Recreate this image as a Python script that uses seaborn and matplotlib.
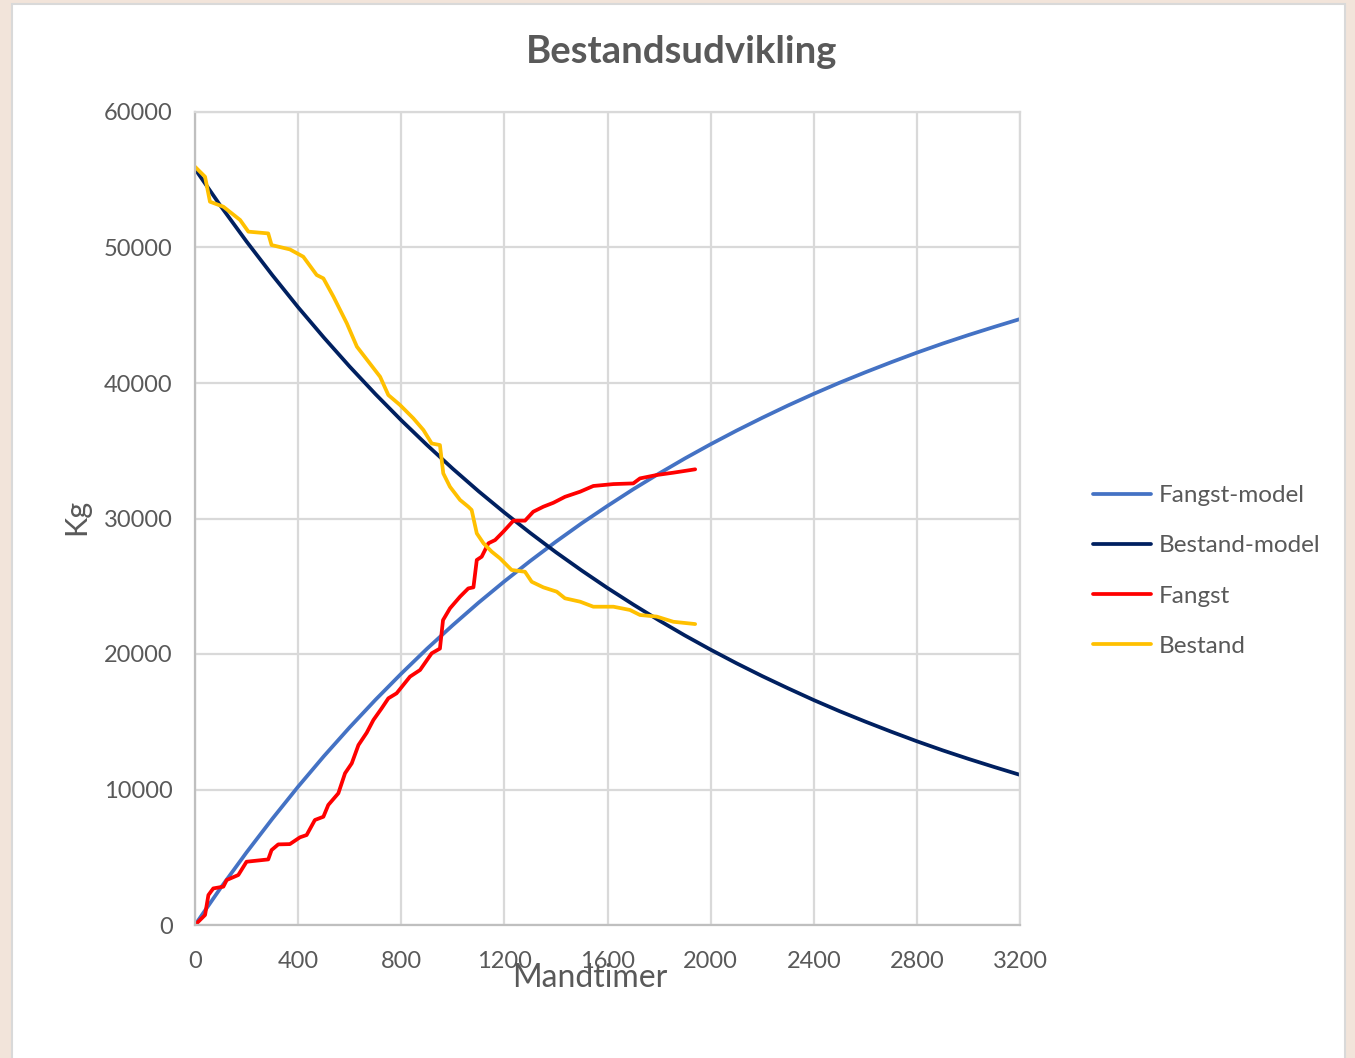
import numpy as np
import matplotlib
matplotlib.use("Agg")
import matplotlib.pyplot as plt
import seaborn as sns
from matplotlib.patches import Rectangle

# -----------------------------------
# DATA
# -----------------------------------

model_timer = [0, 100, 200, 300, 400, 500, 600, 700, 800, 900, 1000, 1100,
               1200, 1300, 1400, 1500, 1600, 1700, 1800, 1900, 2000, 2100,
               2200, 2300, 2400, 2500, 2600, 2700, 2800, 2900, 3000, 3100,
               3200]
fangst_model = [0, 2750, 5360, 7840, 10210, 12460, 14590, 16620, 18550,
                20390, 22130, 23790, 25360, 26860, 28290, 29650, 30930,
                32160, 33320, 34430, 35480, 36480, 37430, 38340, 39200,
                40020, 40790, 41530, 42240, 42910, 43540, 44140, 44720]
bestand_model = [55800, 53050, 50440, 47960, 45590, 43350, 41210, 39180,
                 37250, 35420, 33670, 32010, 30440, 28940, 27510, 26160,
                 24870, 23650, 22480, 21370, 20320, 19320, 18370, 17470,
                 16600, 15780, 15010, 14270, 13560, 12890, 12260, 11660,
                 11080]

fangst_timer = [0, 39, 52, 71, 110, 123, 168, 200, 284, 297, 323, 368, 407,
                433, 465, 498, 517, 556, 582, 608, 634, 666, 692, 724, 750,
                782, 834, 873, 918, 950, 962, 989, 1028, 1060, 1080, 1093,
                1112, 1138, 1164, 1196, 1235, 1280, 1312, 1351, 1390, 1435,
                1494, 1545, 1623, 1700, 1726, 1791, 1855, 1940]
fangst_kg = [0, 740, 2210, 2700, 2830, 3320, 3690, 4670, 4840, 5530, 5950,
             5970, 6470, 6640, 7750, 7990, 8860, 9720, 11200, 11930, 13280,
             14190, 15130, 15990, 16730, 17100, 18330, 18820, 20050, 20400,
             22500, 23370, 24230, 24840, 24920, 26940, 27180, 28170, 28410,
             29030, 29840, 29840, 30500, 30870, 31160, 31600, 31980, 32400,
             32540, 32590, 32960, 33210, 33380, 33630]

bestand_timer = [0, 39, 58, 110, 175, 207, 284, 297, 368, 420, 472, 498, 537,
                 589, 628, 673, 718, 750, 795, 847, 886, 918, 950, 963, 989,
                 1028, 1060, 1073, 1093, 1119, 1151, 1183, 1228, 1280, 1306,
                 1351, 1403, 1435, 1494, 1545, 1623, 1687, 1726, 1791, 1855,
                 1940]
bestand_kg = [55960, 55220, 53380, 53010, 52030, 51170, 51040, 50180, 49860,
              49320, 47970, 47720, 46370, 44400, 42680, 41570, 40460, 39110,
              38380, 37390, 36530, 35540, 35420, 33330, 32340, 31370, 30870,
              30630, 28900, 28170, 27550, 27060, 26200, 26070, 25330, 24920,
              24600, 24110, 23860, 23490, 23490, 23250, 22880, 22760, 22380,
              22210]

x_ticks = [0, 400, 800, 1200, 1600, 2000, 2400, 2800, 3200]
y_ticks = [0, 10000, 20000, 30000, 40000, 50000, 60000]

# -----------------------------------
# STYLE
# -----------------------------------

sns.set_style("white")
plt.rcParams["font.family"] = ["Lato", "DejaVu Sans"]

TEXT = "#595959"
GRID = "#D9D9D9"
LW = 2.7

fig = plt.figure(figsize=(13.55, 10.58), dpi=100)
fig.patch.set_facecolor("#F2E4DA")

# white chart panel
fig.patches.append(Rectangle((12 / 1355, -0.01), 1333 / 1355, 1.01 - 4 / 1058,
                             transform=fig.transFigure, facecolor="white",
                             edgecolor=GRID, linewidth=1.5, zorder=-5))

ax = fig.add_axes([195 / 1355, 133 / 1058, 825 / 1355, 813 / 1058])
ax.set_zorder(2)
ax.set_facecolor("white")

# -----------------------------------
# LINES
# -----------------------------------

sns.lineplot(x=model_timer, y=fangst_model, ax=ax, color="#4472C4",
             linewidth=LW, label="Fangst-model")
sns.lineplot(x=model_timer, y=bestand_model, ax=ax, color="#002060",
             linewidth=LW, label="Bestand-model")
sns.lineplot(x=fangst_timer, y=fangst_kg, ax=ax, color="#FF0000",
             linewidth=LW, label="Fangst")
sns.lineplot(x=bestand_timer, y=bestand_kg, ax=ax, color="#FFC000",
             linewidth=LW, label="Bestand")

# -----------------------------------
# AXES
# -----------------------------------

ax.set_xlim(0, 3200)
ax.set_ylim(0, 60000)
ax.set_xticks(x_ticks)
ax.set_yticks(y_ticks)
ax.grid(True, color=GRID, linewidth=1.6)
ax.set_axisbelow(True)
for side in ["top", "right", "left", "bottom"]:
    ax.spines[side].set_color(GRID)
    ax.spines[side].set_linewidth(1.6)
ax.spines["bottom"].set_color("#BFBFBF")
ax.spines["left"].set_color("#BFBFBF")
ax.tick_params(axis="both", length=0, labelsize=17, labelcolor=TEXT)
ax.tick_params(axis="x", pad=19)
ax.tick_params(axis="y", pad=16)
ax.set_xlabel("")
ax.set_ylabel("")

fig.text(682 / 1355, 1 - 52 / 1058, "Bestandsudvikling", ha="center",
         va="center", fontsize=27.5, fontweight="bold", color=TEXT)
fig.text(590 / 1355, 1 - 978 / 1058, "Mandtimer", ha="center", va="center",
         fontsize=23, color=TEXT, zorder=5)
fig.text(76 / 1355, 1 - 517 / 1058, "Kg", ha="center", va="center",
         rotation=90, fontsize=22, color=TEXT)

ax.legend_.remove()
handles, labels = ax.get_legend_handles_labels()
leg = fig.legend(handles, labels, loc="center left",
                 bbox_to_anchor=(1071 / 1355, 1 - 571 / 1058), frameon=False,
                 fontsize=17.5, handlelength=2.4, handletextpad=0.3,
                 labelspacing=1.2)
for t in leg.get_texts():
    t.set_color(TEXT)
for h in leg.get_lines():
    h.set_linewidth(LW)

plt.savefig("out.png", dpi=100, facecolor=fig.get_facecolor())
